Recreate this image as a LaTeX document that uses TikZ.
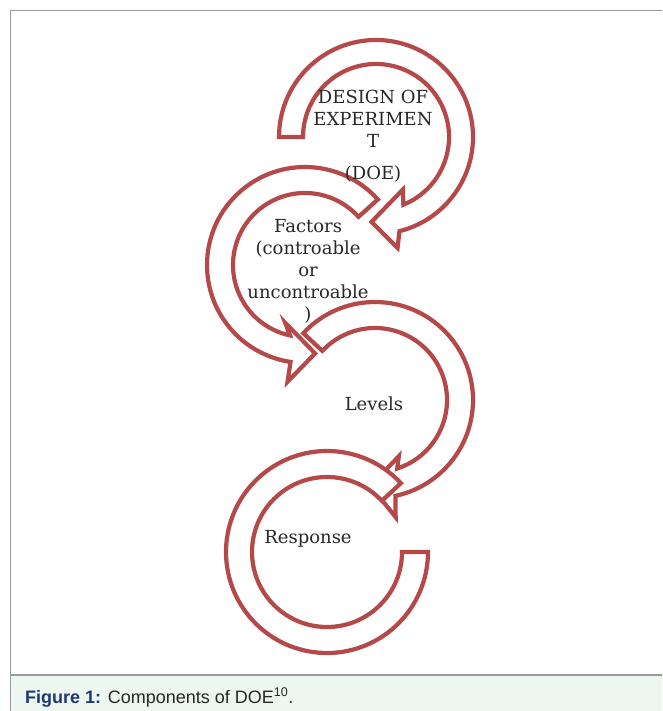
\documentclass[tikz,border=0pt]{standalone}
\usepackage{fontspec}
\setmainfont{DejaVu Serif}
\newfontfamily\capfont{Liberation Sans}
\usepackage{xcolor}
\usepackage{tikz}
\definecolor{arrowred}{RGB}{181, 72, 72}
\definecolor{framegray}{RGB}{153, 153, 153}
\definecolor{capgreen}{RGB}{238, 246, 240}
\definecolor{capblue}{RGB}{32, 56, 120}
\definecolor{textgray}{RGB}{40, 40, 40}

\begin{document}
\begin{tikzpicture}[x=1pt, y=1pt,
  band/.style={draw=arrowred, fill=white, line width=4.2pt, line join=miter},
  lbl/.style={font=\fontsize{18}{22}\selectfont, text=textgray, align=center, inner sep=0pt, anchor=base}]
  % Page, caption strip and frame
  \fill[white] (0,0) rectangle (662,-711);
  \useasboundingbox (0,0) rectangle (662,-711);
  \fill[capgreen] (10.5,-675) rectangle (662,-711);
  \draw[framegray, line width=1.5pt] (662,-10.5) -- (10.5,-10.5) -- (10.5,-711);
  \draw[framegray, line width=1.5pt] (10.5,-675) -- (662,-675);

  % DOE arrow (clockwise, flat tail on the left)
  \begin{scope}[shift={(376,-137)}]
    \draw[band] (180:97) arc[start angle=180, end angle=-76, radius=97]
      -- (-79:113) -- (-93:85) -- (-63:59) -- (-68:73)
      arc[start angle=-68, end angle=180, radius=73] -- cycle;
  \end{scope}

  % Factors arrow (counter-clockwise)
  \begin{scope}[shift={(305,-265)}]
    \draw[band] (42:98) arc[start angle=42, end angle=261.5, radius=98]
      -- (261.5:118) -- (276.5:89) -- (251:61) -- (258:72)
      arc[start angle=258, end angle=42, radius=72] -- cycle;
  \end{scope}

  % Levels arrow (clockwise)
  \begin{scope}[shift={(375,-400)}]
    \draw[band] (137:98) arc[start angle=137, end angle=-78, radius=98]
      -- (-80:119) -- (-93:86) -- (-67:61) -- (-72:72)
      arc[start angle=-72, end angle=137, radius=72] -- cycle;
  \end{scope}

  % Response arrow (counter-clockwise, flat end on the right)
  \begin{scope}[shift={(327,-552)}]
    \draw[band] (43:101) arc[start angle=43, end angle=360, radius=101]
      -- (0:75) arc[start angle=360, end angle=43, radius=75] -- cycle;
  \end{scope}

  % Labels (base = last line)
  \node[lbl] (doe) at (373,-180) {DESIGN OF\\EXPERIMEN\\T\\[10pt](DOE)};
  \node[lbl] (factors) at (308,-320) {Factors\\(controable\\or\\uncontroable\\)};
  \node[lbl] (levels) at (374,-410) {Levels};
  \node[lbl] (response) at (308,-543) {Response};

  % Caption
  \node[anchor=base west, inner sep=0pt, font=\capfont\fontsize{18}{20}\selectfont, text=textgray]
    (caption) at (25,-703) {\textcolor{capblue}{\bfseries Figure 1:} Components of DOE\textsuperscript{10}.};
\end{tikzpicture}
\end{document}
